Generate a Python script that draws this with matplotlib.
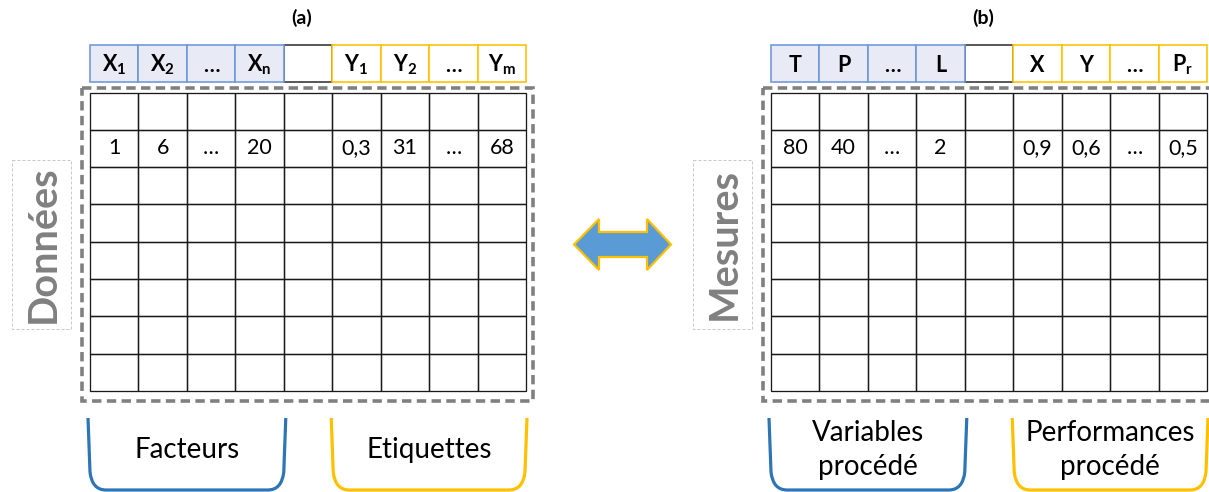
import matplotlib
matplotlib.use("Agg")
import matplotlib.pyplot as plt
from matplotlib.patches import Rectangle, Polygon, PathPatch
from matplotlib.path import Path

plt.rcParams['font.family'] = ['Lato', 'DejaVu Sans']
plt.rcParams['mathtext.fontset'] = 'custom'
plt.rcParams['mathtext.rm'] = 'Lato'
plt.rcParams['mathtext.bf'] = 'Lato:bold'
plt.rcParams['mathtext.it'] = 'Lato:italic'

# ---------------- data ----------------
panel_titles = ["(a)", "(b)"]
side_labels = ["Données", "Mesures"]
headers_a = [r"$\mathbf{X_1}$", r"$\mathbf{X_2}$", "…", r"$\mathbf{X_n}$", "",
             r"$\mathbf{Y_1}$", r"$\mathbf{Y_2}$", "…", r"$\mathbf{Y_m}$"]
values_a = ["1", "6", "…", "20", "", "0,3", "31", "…", "68"]
headers_b = ["T", "P", "…", "L", "", "X", "Y", "…", r"$\mathbf{P_r}$"]
values_b = ["80", "40", "…", "2", "", "0,9", "0,6", "…", "0,5"]
header_groups = ["in", "in", "in", "in", "gap", "out", "out", "out", "out"]
bracket_a = ["Facteurs", "Etiquettes"]
bracket_b = ["Variables\nprocédé", "Performances\nprocédé"]
n_rows = 8
value_row = 1

# ---------------- style ----------------
BLUE_EDGE = "#6e97d8"
BLUE_FILL = "#e8ebf5"
YELLOW = "#ffc000"
BRACKET_BLUE = "#2e75b6"
GRAY = "#808080"
ARROW_FILL = "#5b9bd5"
PX = 72 / 100.0  # points per pixel

fig = plt.figure(figsize=(12.09, 4.92), dpi=100)
ax = fig.add_axes([0, 0, 1, 1])
ax.set_xlim(0, 1209)
ax.set_ylim(492, 0)
ax.axis("off")

col_w = 436 / 9.0
row_h = (391 - 92.5) / n_rows


def bracket(x0, x1, color, text):
    top, bot = 418, 490
    verts = [(x0, top), (x0 + 2, bot - 18), (x0 + 4, bot), (x0 + 18, bot),
             (x1 - 18, bot), (x1 - 4, bot), (x1 - 2, bot - 18), (x1, top)]
    codes = [Path.MOVETO, Path.LINETO, Path.CURVE3, Path.CURVE3,
             Path.LINETO, Path.CURVE3, Path.CURVE3, Path.LINETO]
    ax.add_patch(PathPatch(Path(verts, codes), fill=False, edgecolor=color,
                           lw=3.2 * PX, capstyle="butt", joinstyle="round"))
    if "\n" in text:
        l1, l2 = text.split("\n")
        ax.text((x0 + x1) / 2, 433, l1, ha="center", va="center", fontsize=20)
        ax.text((x0 + x1) / 2, 467, l2, ha="center", va="center", fontsize=20)
    else:
        ax.text((x0 + x1) / 2, 450, text, ha="center", va="center", fontsize=20)


def panel(ox, title, side, headers, values, btexts):
    gx0 = ox
    gy0 = 92.5
    # title
    ax.text(gx0 + 212, 18, title, ha="center", va="center", fontsize=14,
            fontweight="bold")
    # header cells (draw blank first then colored on top)
    order = sorted(range(9), key=lambda i: header_groups[i] != "gap")
    for i in order:
        g = header_groups[i]
        x = gx0 + i * col_w
        if g == "in":
            ec, fc = BLUE_EDGE, BLUE_FILL
        elif g == "out":
            ec, fc = YELLOW, "white"
        else:
            ec, fc = "#333333", "white"
        ax.add_patch(Rectangle((x, 45), col_w, 37, facecolor=fc, edgecolor=ec,
                               lw=1.6 * PX))
        if headers[i]:
            ax.text(x + col_w / 2, 65, headers[i], ha="center", va="center",
                    fontsize=15.5, fontweight="bold")
    # grid
    for r in range(n_rows):
        for c in range(9):
            ax.add_patch(Rectangle((gx0 + c * col_w, gy0 + r * row_h), col_w,
                                   row_h, fill=False, edgecolor="#1a1a1a",
                                   lw=1.3 * PX))
    for c, v in enumerate(values):
        if v:
            ax.text(gx0 + (c + 0.5) * col_w, gy0 + (value_row + 0.5) * row_h, v,
                    ha="center", va="center", fontsize=15.5)
    # dashed frame
    ax.add_patch(Rectangle((gx0 - 8.5, 87.5), 436 + 15, 401 - 87.5, fill=False,
                           edgecolor=GRAY, lw=3.6 * PX,
                           linestyle=(0, (2.6, 1.5))))
    # side label box
    ax.add_patch(Rectangle((gx0 - 78, 160), 59, 169, fill=False,
                           edgecolor="#c8c8c8", lw=1 * PX,
                           linestyle=(0, (3, 2))))
    ax.text(gx0 - 47, 244.5, side, rotation=90, ha="center", va="center",
            fontsize=28.5, fontweight="bold", color=GRAY)
    # brackets
    bracket(gx0 - 2, gx0 + 4 * col_w + 2, BRACKET_BLUE, btexts[0])
    bracket(gx0 + 5 * col_w - 1, gx0 + 9 * col_w + 1, YELLOW, btexts[1])


panel(90, panel_titles[0], side_labels[0], headers_a, values_a, bracket_a)
panel(771, panel_titles[1], side_labels[1], headers_b, values_b, bracket_b)

# double arrow
arrow = [(574, 244.5), (599, 219), (599, 232), (647, 232), (647, 219),
         (671, 244.5), (647, 270), (647, 257), (599, 257), (599, 270)]
ax.add_patch(Polygon(arrow, closed=True, facecolor=ARROW_FILL,
                     edgecolor=YELLOW, lw=2.2 * PX, joinstyle="miter"))

fig.savefig("out.png", dpi=100)
